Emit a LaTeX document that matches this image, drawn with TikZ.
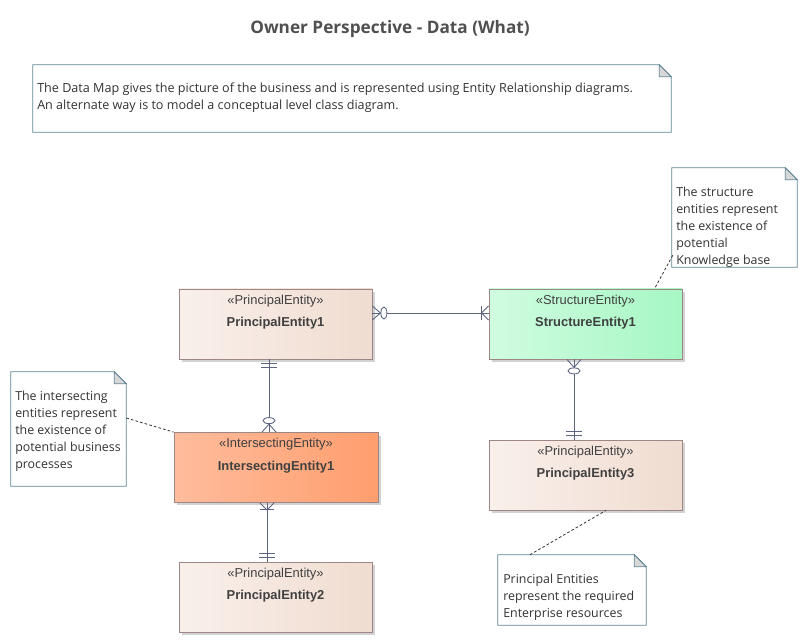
\documentclass[tikz,border=0pt]{standalone}
\usepackage{fontspec}
\setmainfont{Open Sans}
\setsansfont{Liberation Sans}
\usetikzlibrary{calc}
\definecolor{pel}{HTML}{F9F0EB}
\definecolor{per}{HTML}{F0DCD0}
\definecolor{sel}{HTML}{D0FCE0}
\definecolor{ser}{HTML}{A6F7C4}
\definecolor{iel}{HTML}{FFBC9C}
\definecolor{ier}{HTML}{FF9E6E}
\definecolor{eborder}{HTML}{9C8686}
\definecolor{shadowc}{HTML}{D2D2D2}
\definecolor{nborder}{HTML}{5F8595}
\definecolor{foldc}{HTML}{D8D8D8}
\definecolor{connc}{HTML}{5C6480}
\definecolor{etext}{HTML}{404040}
\definecolor{ntext}{HTML}{333333}
\definecolor{titlec}{HTML}{505050}
\tikzset{
  entity/.style={draw=eborder, line width=0.6pt, minimum width=144.75pt, minimum height=52.5pt, inner sep=0pt, text=etext, font=\sffamily\fontsize{9.7}{12}\selectfont},
  peshade/.style={left color=pel, right color=per},
  seshade/.style={left color=sel, right color=ser},
  ieshade/.style={left color=iel, right color=ier},
  notebox/.style={draw=none, inner sep=0pt},
  noteline/.style={draw=nborder, line width=0.6pt, fill=white},
  notetext/.style={anchor=north west, inner sep=0pt, align=left, text=ntext, font=\fontsize{9.3}{12.75}\selectfont},
  conn/.style={draw=connc, line width=0.65pt},
  notelink/.style={draw=black!80, line width=0.6pt, dash pattern=on 2pt off 1.6pt},
}
\newcommand\ent[2]{\parbox[c][52.5pt][t]{144pt}{\centering\vspace{4.3pt}\guillemotleft #1\guillemotright\\[5pt]\textbf{#2}}}
\newcommand\zeromany[2]{\begin{scope}[shift={(#1)},rotate=#2]\draw[conn] (0,-7)--(8,0)--(0,7);\draw[conn,fill=white] (11.5,0) ellipse (3 and 6);\end{scope}}
\newcommand\onemany[2]{\begin{scope}[shift={(#1)},rotate=#2]\draw[conn] (0,-7)--(7,0)--(0,7);\draw[conn] (7,-7)--(7,7);\end{scope}}
\newcommand\onlyone[2]{\begin{scope}[shift={(#1)},rotate=#2]\draw[conn] (4,-8)--(4,8);\draw[conn] (8,-8)--(8,8);\end{scope}}
\newcommand\notebody[2]{%
  \draw[noteline] (#1.north west) -- ($(#1.north east)+(-12,0)$) -- ($(#1.north east)+(0,12)$) -- (#1.south east) -- (#1.south west) -- cycle;
  \draw[noteline, fill=foldc] ($(#1.north east)+(-12,0)$) -- ($(#1.north east)+(-12,12)$) -- ($(#1.north east)+(0,12)$) -- cycle;}
\begin{document}
\begin{tikzpicture}[x=0.75pt,y=-0.75pt]
\useasboundingbox (0,0) rectangle (806,641);
\fill[white] (0,0) rectangle (806,641);
% title
\node[font=\bfseries\fontsize{12.9}{15}\selectfont, text=titlec] (title) at (390,29) {Owner Perspective - Data (What)};
% shadows
\foreach \a/\b in {179/289, 489/289, 489/440, 179/562}{
  \fill[shadowc] (\a+3,\b+3) rectangle (\a+196,\b+73);}
\fill[shadowc] (177,436) rectangle (381,505);
% entities
\node[entity, peshade] (pe1) at (275.5,324) {\ent{PrincipalEntity}{PrincipalEntity1}};
\node[entity, seshade] (se1) at (585.5,324) {\ent{StructureEntity}{StructureEntity1}};
\node[entity, ieshade, minimum width=153pt] (ie1) at (276,467.5) {\ent{IntersectingEntity}{IntersectingEntity1}};
\node[entity, peshade] (pe3) at (585.5,475) {\ent{PrincipalEntity}{PrincipalEntity3}};
\node[entity, peshade] (pe2) at (275.5,597) {\ent{PrincipalEntity}{PrincipalEntity2}};
% notes
\node[notebox, minimum width=478.5pt, minimum height=50.25pt] (n0) at (352,98.5) {};
\notebody{n0}{}
\node[notetext, font=\fontsize{9.45}{12.75}\selectfont] (t0) at (37,83) {The Data Map gives the picture of the business and is represented using Entity Relationship diagrams.\\An alternate way is to model a conceptual level class diagram.};
\node[notebox, minimum width=93.75pt, minimum height=74.25pt] (n1) at (734.5,217.5) {};
\notebody{n1}{}
\node[notetext] (t1) at (676,187) {The structure\\entities represent\\the existence of\\potential\\Knowledge base};
\node[notebox, minimum width=86.25pt, minimum height=85.5pt] (n2) at (68.5,429) {};
\notebody{n2}{}
\node[notetext] (t2) at (15,391) {The intersecting\\entities represent\\the existence of\\potential business\\processes};
\node[notebox, minimum width=111pt, minimum height=52.5pt] (n3) at (572,590) {};
\notebody{n3}{}
\node[notetext] (t3) at (503,574) {Principal Entities\\represent the required\\Enterprise resources};
% note links
\coordinate (l1a) at ($(n1.south west)+(1,-12)$);
\coordinate (l1b) at ($(se1.north west)+(166,0)$);
\draw[notelink] (l1a) -- (l1b);
\coordinate (l2a) at (n2.east |- 0,418);
\draw[notelink] (l2a) -- (ie1.north west);
\coordinate (l3a) at (n3.north -| 530,0);
\coordinate (l3b) at (pe3.south -| 606,0);
\draw[notelink] (l3a) -- (l3b);
% connectors
\coordinate (c1a) at (pe1.east |- 0,313);
\coordinate (c1b) at (se1.west |- 0,313);
\coordinate (c2a) at (pe1.south -| 269,0);
\coordinate (c2b) at (ie1.north -| 269,0);
\coordinate (c3a) at (se1.south -| 574,0);
\coordinate (c3b) at (pe3.north -| 574,0);
\coordinate (c4a) at (ie1.south -| 267,0);
\coordinate (c4b) at (pe2.north -| 267,0);
\draw[conn] (c1a) -- (c1b);
\draw[conn] (c2a) -- (c2b);
\draw[conn] (c3a) -- (c3b);
\draw[conn] (c4a) -- (c4b);
\zeromany{c1a}{0}
\onemany{c1b}{180}
\onlyone{c2a}{-90}
\zeromany{c2b}{90}
\zeromany{c3a}{-90}
\onlyone{c3b}{90}
\onemany{c4a}{-90}
\onlyone{c4b}{90}
\end{tikzpicture}
\end{document}
